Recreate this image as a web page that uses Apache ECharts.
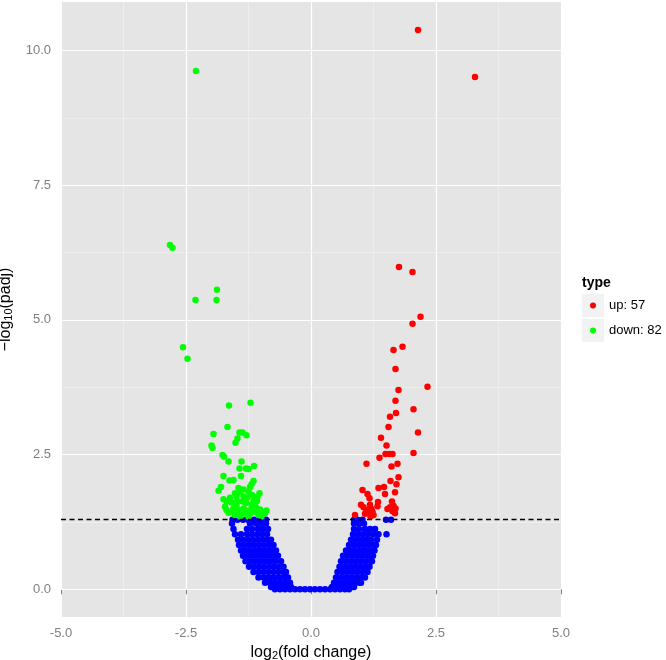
<!DOCTYPE html>
<html><head><meta charset="utf-8">
<script src="https://cdn.jsdelivr.net/npm/echarts@6/dist/echarts.min.js"></script>
<style>html,body{margin:0;padding:0;background:#fff}#c{width:666px;height:660px}</style>
</head><body><div id="c"></div>
<script>
// ---- data ----
const xTicks = [-5, -2.5, 0, 2.5, 5];
const yTicks = [0, 2.5, 5, 7.5, 10];
const yMinor = [1.25, 3.75, 6.25, 8.75];
const threshold = 1.30103; // -log10(0.05)
const legendNames = ['up: 57', 'down: 82'];

const upPoints = [
  [2.14,10.38],[3.28,9.51],
  [1.76,5.98],[2.03,5.89],[2.19,5.06],[2.03,4.93],[1.83,4.50],[1.65,4.44],[1.69,4.09],[2.33,3.76],
  [1.75,3.70],[1.69,3.50],[2.05,3.34],[1.70,3.27],[1.58,3.20],[1.55,3.01],[2.14,2.91],[1.40,2.81],
  [1.51,2.67],[2.05,2.53],[1.49,2.51],[1.57,2.51],[1.63,2.51],[1.37,2.44],[1.11,2.33],[1.73,2.33],
  [1.61,2.28],[1.75,2.08],[1.59,2.01],[1.71,1.95],[1.35,1.88],[1.46,1.90],[1.03,1.84],[1.68,1.80],
  [1.13,1.77],[1.48,1.77],[1.17,1.69],[1.62,1.63],[1.34,1.62],[1.00,1.57],[1.05,1.52],[1.18,1.57],
  [1.33,1.54],[1.58,1.52],[1.69,1.50],[1.21,1.49],[1.23,1.44],[1.11,1.47],[1.13,1.42],[1.63,1.45],
  [1.68,1.41],[0.88,1.38],[1.19,1.35],[1.53,1.49],[1.65,1.55],[1.08,1.40],[1.25,1.38]
];

const downPoints = [
  [-2.30,9.62],
  [-2.82,6.39],[-2.77,6.34],[-1.88,5.56],[-2.31,5.37],[-1.89,5.37],[-2.56,4.49],[-2.47,4.28],
  [-1.64,3.41],[-1.21,3.46],[-1.67,3.01],[-1.95,2.88],[-1.43,2.91],[-1.37,2.91],[-1.29,2.86],[-1.47,2.80],
  [-1.51,2.72],[-1.99,2.67],[-1.97,2.62],[-1.77,2.49],[-1.74,2.46],[-1.65,2.37],[-1.39,2.37],[-1.43,2.24],
  [-1.30,2.24],[-1.25,2.23],[-1.14,2.29],[-1.75,2.10],[-1.63,2.02],[-1.55,2.03],
  [-1.15,2.01],[-1.19,1.95],[-1.85,1.83],[-1.45,1.88],[-1.42,1.81],[-1.35,1.85],[-1.22,1.90],[-1.25,1.81],
  [-1.52,1.78],[-1.49,1.72],[-1.03,1.78],[-1.07,1.72],[-1.75,1.67],[-1.69,1.63],[-1.59,1.61],[-1.35,1.72],
  [-1.37,1.63],[-1.15,1.66],[-1.12,1.60],[-1.19,1.57],[-1.72,1.53],[-1.69,1.47],[-1.65,1.42],[-1.49,1.55],
  [-1.45,1.47],[-1.35,1.50],[-1.29,1.46],[-1.19,1.50],[-1.12,1.44],[-0.89,1.46],[-0.92,1.41],[-1.39,1.38],
  [-1.42,1.35],[-1.05,1.38],[-0.99,1.35],[-1.25,1.35],[-1.22,1.40],[-1.52,1.38],
  [-1.58,1.45],[-1.55,1.50],[-1.30,1.60],[-1.28,1.70],[-1.10,1.52],[-1.02,1.48],[-0.96,1.42],[-1.32,1.41],
  [-1.08,1.64],[-1.62,1.70],[-1.80,1.90],[-1.40,2.10],[-1.18,1.75],[-1.48,1.62]
];

// non-significant genes, listed row by row: [y, [x values]]
const blueRows = [
  [0.00, [-0.72,-0.62,-0.52,-0.42,-0.32,-0.22,-0.12,-0.02,0.08,0.18,0.28,0.38,0.48,0.58,0.68,0.76]],
  [0.04, [-0.80,-0.70,-0.60,-0.50,-0.40, 0.42,0.52,0.62,0.72,0.82,0.86]],
  [0.12, [-0.92,-0.82,-0.72,-0.62,-0.52,-0.42, 0.46,0.56,0.66,0.76,0.86,0.96,1.00]],
  [0.22, [-1.05,-0.95,-0.85,-0.75,-0.65,-0.55,-0.46, 0.50,0.60,0.70,0.80,0.90,1.00,1.08]],
  [0.32, [-1.15,-1.05,-0.95,-0.85,-0.75,-0.65,-0.55,-0.50, 0.53,0.63,0.73,0.83,0.93,1.03,1.13]],
  [0.42, [-1.24,-1.14,-1.04,-0.94,-0.84,-0.74,-0.64,-0.55, 0.57,0.67,0.77,0.87,0.97,1.07,1.17]],
  [0.52, [-1.31,-1.21,-1.11,-1.01,-0.91,-0.81,-0.71,-0.60, 0.60,0.70,0.80,0.90,1.00,1.10,1.20,1.22]],
  [0.62, [-1.36,-1.26,-1.16,-1.06,-0.96,-0.86,-0.76,-0.66, 0.64,0.74,0.84,0.94,1.04,1.14,1.24]],
  [0.72, [-1.40,-1.30,-1.20,-1.10,-1.00,-0.90,-0.80,-0.70, 0.70,0.80,0.90,1.00,1.10,1.20,1.27]],
  [0.82, [-1.44,-1.34,-1.24,-1.14,-1.04,-0.94,-0.84,-0.75, 0.76,0.86,0.96,1.06,1.16,1.26,1.30]],
  [0.92, [-1.46,-1.36,-1.26,-1.16,-1.06,-0.96,-0.86,-0.80, 0.80,0.90,1.00,1.10,1.20,1.32]],
  [1.02, [-1.52,-1.40,-1.28,-1.18,-1.08,-0.98,-0.88, 0.84,0.94,1.04,1.14,1.25,1.35,1.51]],
  [1.12, [-1.55,-1.28,-1.18,-1.06,-0.96,-0.86, 0.86,0.96,1.08,1.18,1.28]],
  [1.22, [-1.58,-1.22,-1.10,-1.00,-0.90, 0.86,0.96,1.06]],
  [1.29, [-1.57,-1.47,-1.36,-1.26,-1.14,-1.03,-0.95,-0.90, 0.86,0.93,1.03,1.50,1.60]]
];

// ---- chart ----
const bluePoints = [];
blueRows.forEach(r => r[1].forEach(x => bluePoints.push([x, r[0]])));

const FONT = "'Liberation Sans', Arial, sans-serif";
const chart = echarts.init(document.getElementById('c'), null, {renderer: 'canvas'});

const gridLines = yTicks.map(v => ({yAxis: v, lineStyle: {color: '#FFFFFF', width: 1.2, type: 'solid'}}))
  .concat(yMinor.map(v => ({yAxis: v, lineStyle: {color: '#F0F0F0', width: 0.8, type: 'solid'}})));

chart.setOption({
  animation: false,
  backgroundColor: '#FFFFFF',
  grid: {left: 61, right: 105, top: 2, bottom: 43, show: true, backgroundColor: '#E5E5E5', borderWidth: 0,
    containLabel: false, outerBoundsMode: 'none'},
  xAxis: {
    type: 'value', min: -5, max: 5, interval: 2.5,
    name: '{n|log}{s|2}{n|(fold change)}', nameLocation: 'middle', nameGap: 26,
    nameTextStyle: {rich: {
      n: {fontFamily: FONT, fontSize: 16, color: '#000'},
      s: {fontFamily: FONT, fontSize: 11, color: '#000', padding: [7, 0, 0, 0]}
    }},
    axisLine: {show: false},
    axisTick: {show: true, length: 5, lineStyle: {color: '#7F7F7F', width: 1}},
    axisLabel: {color: '#7F7F7F', fontFamily: FONT, fontSize: 13, margin: 10, formatter: v => v.toFixed(1)},
    splitLine: {show: true, lineStyle: {color: '#FFFFFF', width: 1.2}},
    minorTick: {show: false, splitNumber: 2},
    minorSplitLine: {show: true, lineStyle: {color: '#F0F0F0', width: 0.8}}
  },
  yAxis: {
    type: 'value', min: -0.515, max: 10.9,
    name: '{n|\u2212log}{s|10}{n|(padj)}', nameLocation: 'middle', nameGap: 42, nameRotate: 90,
    nameTextStyle: {rich: {
      n: {fontFamily: FONT, fontSize: 16, color: '#000'},
      s: {fontFamily: FONT, fontSize: 11, color: '#000', padding: [7, 0, 0, 0]}
    }},
    axisLine: {show: false},
    axisTick: {show: true, length: 5, customValues: yTicks, lineStyle: {color: '#7F7F7F', width: 1}},
    axisLabel: {color: '#7F7F7F', fontFamily: FONT, fontSize: 13, margin: 10, customValues: yTicks, formatter: v => v.toFixed(1)},
    splitLine: {show: false}
  },
  legend: {
    data: legendNames, orient: 'vertical', left: 590, top: 299, padding: 0,
    itemWidth: 6, itemHeight: 6, itemGap: 12, icon: 'circle',
    textStyle: {fontFamily: FONT, fontSize: 13, color: '#000', padding: [0, 0, 0, 8]},
    selectedMode: false
  },
  graphic: [
    {type: 'rect', left: 582, top: 294, shape: {width: 22, height: 23}, style: {fill: '#F2F2F2'}, z: -1},
    {type: 'rect', left: 582, top: 319, shape: {width: 22, height: 23}, style: {fill: '#F2F2F2'}, z: -1},
    {type: 'text', left: 582, top: 276, style: {text: 'type', font: "bold 14px 'Liberation Sans', Arial, sans-serif", fill: '#000'}}
  ],
  series: [
    {type: 'scatter', name: 'grid', data: [], silent: true,
      markLine: {silent: true, symbol: 'none', z: 1, label: {show: false}, data: gridLines}},
    {type: 'scatter', name: 'ns', data: bluePoints, symbolSize: 6.5, itemStyle: {color: '#0000FF', opacity: 1}, z: 3},
    {type: 'scatter', name: legendNames[0], data: upPoints, symbolSize: 6.5, itemStyle: {color: '#FF0000', opacity: 1}, z: 4},
    {type: 'scatter', name: legendNames[1], data: downPoints, symbolSize: 6.5, itemStyle: {color: '#00FF00', opacity: 1}, z: 4},
    {type: 'scatter', name: 'threshold', data: [], silent: true,
      markLine: {silent: true, symbol: 'none', z: 10, label: {show: false},
        data: [{yAxis: threshold, lineStyle: {color: '#000', width: 1.3, type: [5, 3.5]}}]}}
  ]
});
</script>
</body></html>
